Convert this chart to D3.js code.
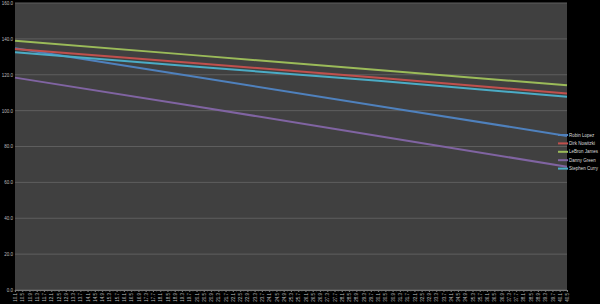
<!DOCTYPE html>
<html><head><meta charset="utf-8">
<script src="https://cdn.jsdelivr.net/npm/d3@7"></script>
<style>body{margin:0;background:#000;}svg{display:block;}</style>
</head><body>
<script>
// Data
const xPoints = [10.1, 20.1, 30.1, 40.5];
const seriesNames = ["Robin Lopez", "Dirk Nowitzki", "LeBron James", "Danny Green", "Stephen Curry"];
const robinLopez   = [134.8, 118.7, 102.6, 85.9];
const dirkNowitzki = [134.4, 126.4, 118.3, 109.6];
const lebronJames  = [138.9, 130.8, 122.6, 114.1];
const dannyGreen   = [118.4, 102.3, 85.9, 68.7];
const stephenCurry = [132.6, 124.5, 116.6, 107.7];
const yTicks = [0, 20, 40, 60, 80, 100, 120, 140, 160];
const xTickLabels = d3.range(0, 77).map(i => +(10.1 + i * 0.4).toFixed(1));
const colors = ["#4f81bd", "#c0504d", "#9bbb59", "#8064a2", "#4bacc6"];

const W = 600, H = 304;
const m = {l: 15, r: 33, t: 3, b: 14};
const svg = d3.select("body").append("svg").attr("width", W).attr("height", H);
svg.append("rect").attr("width", W).attr("height", H).attr("fill", "#000");

const x = d3.scaleLinear().domain([10.1, 40.5]).range([m.l, W - m.r]);
const y = d3.scaleLinear().domain([0, 160]).range([H - m.b, m.t]);

svg.append("rect").attr("x", m.l).attr("y", m.t)
  .attr("width", W - m.r - m.l).attr("height", H - m.b - m.t).attr("fill", "#404040");

// gridlines
svg.append("g").selectAll("line").data(yTicks).join("line")
  .attr("x1", m.l).attr("x2", W - m.r)
  .attr("y1", d => y(d)).attr("y2", d => y(d))
  .attr("stroke", "#5e5e5e").attr("stroke-width", 1);

// y axis
const ya = svg.append("g").attr("transform", `translate(${m.l},0)`)
  .call(d3.axisLeft(y).tickValues(yTicks).tickFormat(d3.format(".1f")).tickSize(0).tickPadding(2));
ya.select(".domain").remove();
ya.selectAll("text").attr("fill", "#bbb").style("font-family", "Liberation Sans, Arial, sans-serif").style("font-size", "4.5px");

// x axis
const xa = svg.append("g").attr("transform", `translate(0,${H - m.b})`)
  .call(d3.axisBottom(x).tickValues(xTickLabels).tickFormat(d3.format(".1f")).tickSize(2).tickPadding(1));
xa.select(".domain").attr("stroke", "#777");
xa.selectAll(".tick line").attr("stroke", "#777");
xa.selectAll("text")
  .attr("fill", "#bbb").style("font-family", "Liberation Sans, Arial, sans-serif").style("font-size", "4.5px")
  .attr("text-anchor", "end").attr("transform", "rotate(-90)")
  .attr("x", -3).attr("y", 0).attr("dy", "0.35em");
// minor ticks
svg.append("g").selectAll("line").data(d3.range(0, 153).map(i => 10.1 + i * 0.2)).join("line")
  .attr("x1", d => x(d)).attr("x2", d => x(d))
  .attr("y1", H - m.b).attr("y2", H - m.b + 1.5).attr("stroke", "#777").attr("stroke-width", 0.6);

// lines
const allSeries = [robinLopez, dirkNowitzki, lebronJames, dannyGreen, stephenCurry];
const line = d3.line().x((d, i) => x(xPoints[i])).y(d => y(d));
svg.append("g").selectAll("path").data(allSeries).join("path")
  .attr("d", d => line(d)).attr("fill", "none")
  .attr("stroke", (d, i) => colors[i]).attr("stroke-width", 2);

// legend
const lg = svg.append("g").attr("transform", "translate(558,135)");
const items = lg.selectAll("g").data(seriesNames).join("g")
  .attr("transform", (d, i) => `translate(0,${i * 8.4})`);
items.append("line").attr("x1", 0).attr("x2", 10).attr("y1", 0).attr("y2", 0)
  .attr("stroke", (d, i) => colors[i]).attr("stroke-width", 2);
items.append("text").attr("x", 11).attr("y", 0).attr("dy", "0.35em")
  .attr("fill", "#ddd").style("font-family", "Liberation Sans, Arial, sans-serif").style("font-size", "4.5px")
  .text(d => d);
</script>
</body></html>
